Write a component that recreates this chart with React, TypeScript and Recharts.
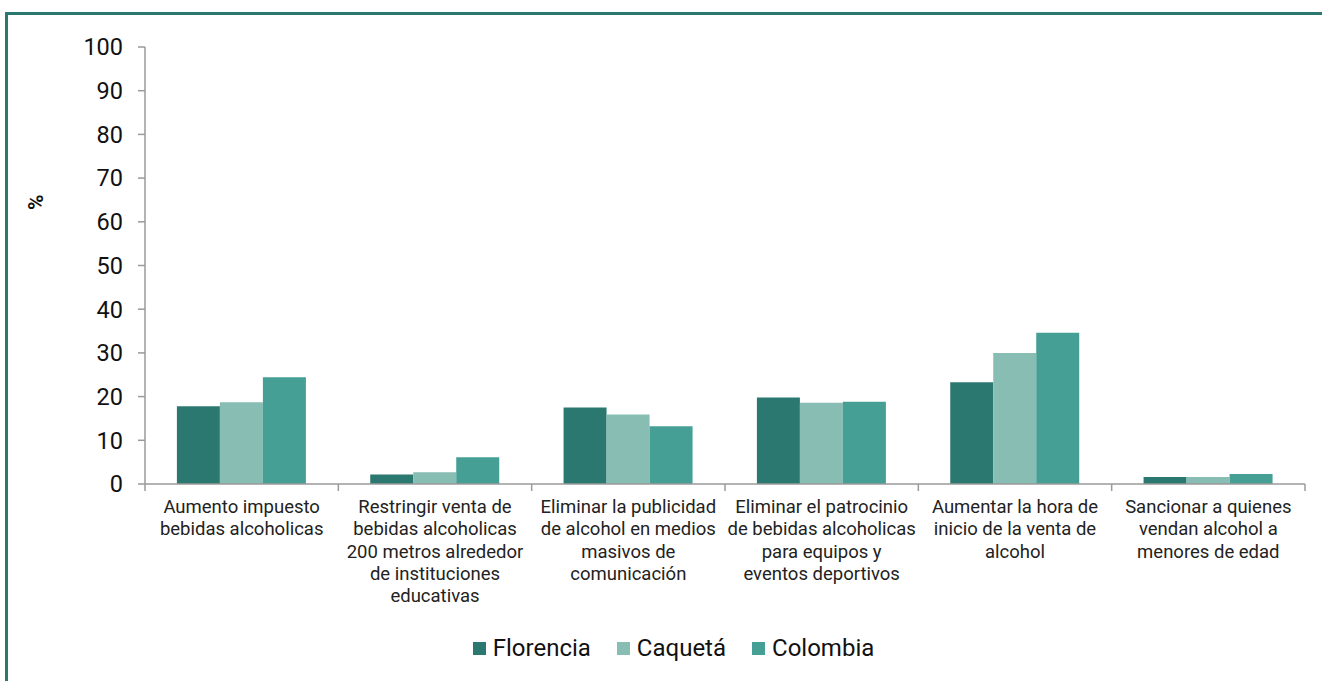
import { BarChart, Bar, XAxis, YAxis, Legend } from 'recharts'

const categories = [
  'Aumento impuesto\nbebidas alcoholicas',
  'Restringir venta de\nbebidas alcoholicas\n200 metros alrededor\nde instituciones\neducativas',
  'Eliminar la publicidad\nde alcohol en medios\nmasivos de\ncomunicación',
  'Eliminar el patrocinio\nde bebidas alcoholicas\npara equipos y\neventos deportivos',
  'Aumentar la hora de\ninicio de la venta de\nalcohol',
  'Sancionar a quienes\nvendan alcohol a\nmenores de edad',
]

const florencia = [17.8, 2.2, 17.5, 19.8, 23.3, 1.6]
const caqueta = [18.7, 2.7, 15.9, 18.6, 30.0, 1.6]
const colombia = [24.4, 6.1, 13.2, 18.8, 34.6, 2.3]

const seriesNames = ['Florencia', 'Caquetá', 'Colombia']
const seriesColors = ['#2b7871', '#87bdb3', '#469f94']

const yTicks = [0, 10, 20, 30, 40, 50, 60, 70, 80, 90, 100]

const FONT = 'Roboto, "Noto Sans", sans-serif'
const AXIS = '#9a9a9a'

const data = categories.map((name, i) => ({
  name,
  Florencia: florencia[i],
  Caquetá: caqueta[i],
  Colombia: colombia[i],
}))

// category label wrapped on its line breaks, with tick marks on the band edges
function CategoryTick(props: any) {
  const { x, y, payload, index, visibleTicksCount, width } = props
  const band = Number(width) / visibleTicksCount
  const lines = String(payload.value).split('\n')
  const top = y - 8
  return (
    <g>
      <line x1={x - band / 2} x2={x - band / 2} y1={top} y2={top + 7} stroke={AXIS} strokeWidth={1.5} />
      {index === visibleTicksCount - 1 && (
        <line x1={x + band / 2} x2={x + band / 2} y1={top} y2={top + 7} stroke={AXIS} strokeWidth={1.5} />
      )}
      <text x={x} y={y} textAnchor="middle" fontSize={18.5} fill="#222" fontFamily={FONT}>
        {lines.map((line, i) => (
          <tspan key={i} x={x} dy={i === 0 ? 21 : 22.3}>
            {line}
          </tspan>
        ))}
      </text>
    </g>
  )
}

function LegendContent() {
  return (
    <div style={{ display: 'flex', justifyContent: 'center', alignItems: 'center', fontFamily: FONT, paddingLeft: 42 }}>
      {seriesNames.map((name, i) => (
        <div key={name} style={{ display: 'flex', alignItems: 'center', marginRight: i < 2 ? 26 : 0 }}>
          <span style={{ width: 13, height: 13, background: seriesColors[i], display: 'inline-block', marginRight: 7 }} />
          <span style={{ fontSize: 24, color: '#111' }}>{name}</span>
        </div>
      ))}
    </div>
  )
}

export default function App() {
  return (
    <div style={{ position: 'absolute', left: 0, top: 0, width: 1322, height: 681, background: '#fff', overflow: 'hidden', fontFamily: FONT }}>
      <div
        style={{
          position: 'absolute',
          left: 5,
          top: 12,
          width: 1330,
          height: 700,
          borderTop: '3px solid #2b7871',
          borderLeft: '3px solid #2b7871',
        }}
      />
      <div style={{ position: 'absolute', left: 0, top: 0 }}>
        <BarChart
          width={1322}
          height={681}
          data={data}
          margin={{ top: 47, right: 17, left: 0, bottom: 7 }}
          barCategoryGap="16.5%"
          barGap={0}
        >
          <XAxis
            dataKey="name"
            height={150}
            interval={0}
            tickLine={false}
            axisLine={{ stroke: AXIS, strokeWidth: 1.5 }}
            tick={<CategoryTick />}
          />
          <YAxis
            width={145}
            domain={[0, 100]}
            ticks={yTicks}
            interval={0}
            tickSize={7}
            tickMargin={15}
            axisLine={{ stroke: AXIS, strokeWidth: 1.5 }}
            tickLine={{ stroke: AXIS, strokeWidth: 1.5 }}
            tick={{ fontSize: 23.5, fill: '#111', fontFamily: FONT }}
            label={{
              value: '%',
              angle: -90,
              position: 'insideTopLeft',
              dx: 23,
              dy: 158,
              fontSize: 21,
              fontWeight: 'bold',
              fill: '#111',
              fontFamily: FONT,
            }}
          />
          <Legend verticalAlign="bottom" align="center" height={40} content={<LegendContent />} />
          {seriesNames.map((name, i) => (
            <Bar key={name} dataKey={name} fill={seriesColors[i]} isAnimationActive={false} />
          ))}
        </BarChart>
      </div>
    </div>
  )
}
